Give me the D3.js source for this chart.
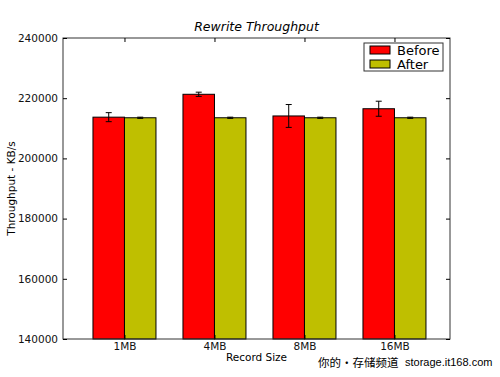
<!DOCTYPE html>
<html><head><meta charset="utf-8">
<script src="https://cdn.jsdelivr.net/npm/d3@7"></script>
<style>body{margin:0;background:#fff}svg{display:block}text{font-family:"DejaVu Sans",sans-serif}</style>
</head><body>
<svg id="c" width="500" height="377"></svg>
<script>
const categories = ["1MB","4MB","8MB","16MB"];
const seriesNames = ["Before","After"];
const beforeValues = [213700, 221300, 214100, 216500];
const beforeErrors = [1500, 700, 3800, 2500];
const afterValues = [213500, 213500, 213500, 213500];
const afterErrors = [200, 200, 200, 200];
const yTicks = [140000,160000,180000,200000,220000,240000];
const colors = ["#ff0000","#bfbf00"];

const svg = d3.select("#c");
const L=63,R=450,T=38,B=339;
const barW = 0.35;
const x = d3.scaleLinear().domain([-0.333, 3.967]).range([L,R]);
const y = d3.scaleLinear().domain([140000,240000]).range([B,T]);

const series = [
  {name:seriesNames[0], vals:beforeValues, errs:beforeErrors, color:colors[0], off:0},
  {name:seriesNames[1], vals:afterValues, errs:afterErrors, color:colors[1], off:barW}
];
series.forEach(s=>{
  const g = svg.append("g");
  g.selectAll("rect").data(s.vals).join("rect")
    .attr("x",(d,i)=>x(i+s.off)).attr("width",x(barW)-x(0))
    .attr("y",d=>y(d)).attr("height",d=>B-y(d))
    .attr("fill",s.color).attr("stroke","#000").attr("stroke-width",1);
  s.vals.forEach((v,i)=>{
    const cx = x(i+s.off+barW/2);
    g.append("line").attr("x1",cx).attr("x2",cx).attr("y1",y(v+s.errs[i])).attr("y2",y(v-s.errs[i])).attr("stroke","#000").attr("stroke-width",1);
    [v+s.errs[i], v-s.errs[i]].forEach(e=>g.append("line").attr("x1",cx-3).attr("x2",cx+3).attr("y1",y(e)).attr("y2",y(e)).attr("stroke","#000").attr("stroke-width",1));
  });
});

// frame
svg.append("rect").attr("x",L).attr("y",T).attr("width",R-L).attr("height",B-T).attr("fill","none").attr("stroke","#333").attr("stroke-width",1);

// y axis
const ya = d3.axisLeft(y).tickValues(yTicks).tickSize(-4).tickPadding(5).tickFormat(d3.format("d"));
const yg = svg.append("g").attr("transform",`translate(${L},0)`).call(ya);
yg.select(".domain").remove();
yg.selectAll("text").attr("font-size",10.5).attr("fill","#111");
const yr = d3.axisRight(y).tickValues(yTicks).tickSize(-4).tickFormat("");
const yrg = svg.append("g").attr("transform",`translate(${R},0)`).call(yr);
yrg.select(".domain").remove();

// x axis
const xt = categories.map((c,i)=>i+barW);
const xa = d3.axisBottom(x).tickValues(xt).tickSize(-4).tickPadding(4).tickFormat((d,i)=>categories[i]);
const xg = svg.append("g").attr("transform",`translate(0,${B})`).call(xa);
xg.select(".domain").remove();
xg.selectAll("text").attr("font-size",10.5).attr("fill","#111");
const xtop = d3.axisTop(x).tickValues(xt).tickSize(-4).tickFormat("");
const xtg = svg.append("g").attr("transform",`translate(0,${T})`).call(xtop);
xtg.select(".domain").remove();

// labels
svg.append("text").attr("x",(L+R)/2).attr("y",31).attr("text-anchor","middle").attr("font-size",12.5).attr("font-style","italic").text("Rewrite Throughput");
svg.append("text").attr("x",(L+R)/2).attr("y",361).attr("text-anchor","middle").attr("font-size",10.5).text("Record Size");
svg.append("text").attr("transform",`translate(15,${(T+B)/2}) rotate(-90)`).attr("text-anchor","middle").attr("font-size",10.5).text("Throughput - KB/s");

// legend
const lg = svg.append("g");
lg.append("rect").attr("x",364).attr("y",43).attr("width",79).attr("height",28).attr("fill","#fff").attr("stroke","#333");
series.forEach((s,i)=>{
  lg.append("rect").attr("x",370).attr("y",46+i*14).attr("width",20).attr("height",8).attr("fill",s.color).attr("stroke","#000");
  lg.append("text").attr("x",397).attr("y",55+i*14).attr("font-size",13).text(s.name);
});

// watermark
svg.append("text").attr("x",318).attr("y",367).attr("font-size",11.5).style("font-family","'Noto Sans CJK SC',sans-serif").text("你的•存储频道");
svg.append("text").attr("x",405).attr("y",366).attr("font-size",11).style("font-family","'Liberation Sans',sans-serif").text("storage.it168.com");
</script>
</body></html>
